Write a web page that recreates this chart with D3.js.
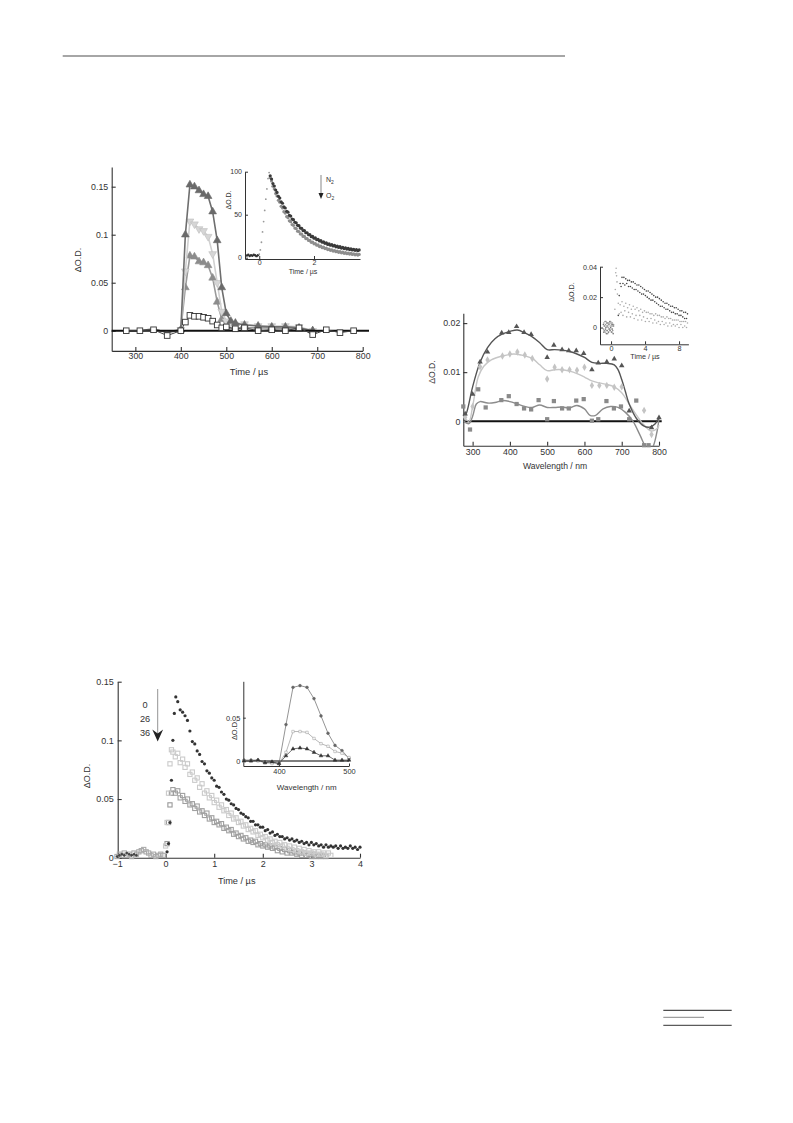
<!DOCTYPE html>
<html><head><meta charset="utf-8">
<script src="https://cdn.jsdelivr.net/npm/d3@7"></script>
<style>
body{margin:0;background:#fff;}
text{font-family:"Liberation Sans",Arial,sans-serif;fill:#333;}
</style></head><body>
<script>
// ---------- DATA ----------
// Top-left main: Time / µs vs ΔO.D.
const tlTime = [280,310,340,370,400,410,420,430,440,450,460,470,480,490,500,510,520,540,570,600,630,660,690,720,750,780];
const tlDark = [0,0,0.002,-0.002,0.001,0.100,0.152,0.150,0.146,0.142,0.140,0.124,0.094,0.045,0.018,0.010,0.008,0.006,0.005,0.004,0.004,0.003,0,0,0,0];
const tlLight = [0,0,0.001,-0.001,0.001,0.062,0.114,0.111,0.106,0.104,0.098,0.080,0.050,0.020,0.010,0.007,0.006,0.007,0.005,0.005,0.005,0.004,0,0,0,0];
const tlMid = [0,0,0.001,-0.001,0.001,0.045,0.078,0.077,0.072,0.071,0.068,0.055,0.030,0.012,0.006,0.004,0.003,0.003,0.003,0.003,0.002,0.002,0,0,0,0];
const tlSqTime = [280,310,340,370,400,410,420,430,440,450,460,470,480,490,500,520,540,570,600,630,660,690,720,750,780];
const tlSquare = [0,0,0.001,-0.005,0,0.009,0.016,0.015,0.015,0.014,0.013,0.010,0.006,0.003,0.004,0.002,0.003,0,0.001,0,0.003,-0.004,0.001,-0.002,0];

// Top-left inset (normalised ΔO.D. vs Time / µs)
const tiBaseStart = -0.45, tiStep = 0.05;
const tiBase = [2.5,3.5,2.0,3.0,2.2,3.4,2.8,1.8,3.0];
const tiRiseT = [0.0,0.04,0.08,0.12,0.16,0.2,0.24,0.28,0.32,0.36];
const tiRise = [4,9,18,30,42,55,68,80,92,99];
const tiDecayStart = 0.4;
const tiN2 = [95.3,91.5,86.2,83.4,78.6,75.9,71.4,69.3,65.0,63.3,59.2,57.8,54.0,52.9,49.3,48.4,45.0,44.2,41.2,40.6,37.7,37.2,34.5,34.2,31.6,31.5,29.0,29.0,26.7,26.8,24.5,24.8,22.6,23.0,20.9,21.3,19.4,19.8,18.0,18.5,16.7,17.3,15.5,16.2,14.5,15.2,13.6,14.3,12.7,13.5,11.9,12.8,11.2,12.0,10.6,11.4,10.0,10.8,9.5,10.3,9.0,9.8,8.6,9.4,8.2,9.0];
const tiO2 = [93.0,89.2,83.1,80.0,74.6,71.8,66.7,64.5,59.8,57.9,53.5,51.9,47.9,46.6,42.9,41.9,38.5,37.7,34.5,33.9,30.9,30.5,27.7,27.4,24.8,24.7,22.3,22.3,20.0,20.1,17.9,18.2,16.1,16.4,14.5,14.9,13.0,13.5,11.7,12.3,10.6,11.2,9.5,10.1,8.6,9.2,7.7,8.4,7.0,7.7,6.3,7.0,5.7,6.4,5.1,5.9,4.6,5.4,4.2,5.0,3.8,4.6,3.4,4.2,3.1,3.8];

// Top-right main: Wavelength / nm vs ΔO.D.
const trDarkPts = [[280,0.0015],[300,0.0055],[320,0.0121],[340,0.0141],[378,0.0180],[397,0.0181],[418,0.0193],[438,0.0181],[457,0.0177],[500,0.0130],[518,0.0155],[540,0.0146],[558,0.0144],[578,0.0144],[598,0.0138],[620,0.0105],[637,0.0119],[660,0.0121],[680,0.0127],[700,0.0113],[720,0.0021],[780,-0.0013],[800,0.0007]];
const trLightPts = [[280,0.0008],[300,0.0030],[320,0.0111],[340,0.0125],[380,0.0133],[400,0.0137],[420,0.0141],[440,0.0135],[460,0.0128],[500,0.0086],[520,0.0110],[540,0.0105],[560,0.0105],[580,0.0104],[600,0.0110],[620,0.0073],[640,0.0073],[660,0.0073],[680,0.0069],[700,0.0070],[760,0.0022],[780,-0.0027]];
const trMidPts = [[275,0.0030],[293,-0.0017],[315,0.0065],[335,0.0028],[377,0.0043],[397,0.0051],[418,0.0035],[438,0.0026],[457,0.0024],[477,0.0043],[500,0.0004],[518,0.0041],[540,0.0026],[558,0.0026],[578,0.0042],[598,0.0045],[620,0.0001],[637,0.0004],[659,0.0041],[679,0.0026],[698,0.0030],[720,0.0004],[739,0.0042],[760,-0.0049],[772,-0.0049]];
const trDarkFit = [[275,0.0],[285,0.002],[300,0.007],[320,0.012],[340,0.015],[360,0.0168],[380,0.0178],[400,0.0183],[420,0.0186],[440,0.018],[460,0.0172],[480,0.016],[500,0.0146],[520,0.0146],[540,0.0145],[560,0.0142],[580,0.0137],[600,0.013],[620,0.012],[640,0.0118],[660,0.0118],[680,0.0115],[690,0.0105],[700,0.0085],[710,0.006],[720,0.0035],[740,0.0005],[760,-0.001],[775,-0.0012],[790,-0.0005],[800,0.0007]];
const trLightFit = [[275,0.001],[290,0.0],[300,0.003],[315,0.009],[330,0.0112],[350,0.0125],[380,0.0133],[410,0.0137],[430,0.0135],[460,0.0128],[480,0.0115],[500,0.0103],[520,0.0105],[540,0.0105],[560,0.0102],[580,0.0097],[600,0.009],[620,0.0082],[640,0.0078],[660,0.0075],[680,0.007],[700,0.0058],[720,0.0035],[740,0.0012],[760,-0.0008],[780,-0.002],[795,-0.0015],[800,-0.0008]];
const trMidFit = [[275,0.0],[290,-0.0005],[300,0.001],[310,0.0035],[320,0.004],[340,0.0037],[360,0.0038],[380,0.0042],[400,0.004],[420,0.0035],[440,0.003],[460,0.0028],[480,0.0033],[500,0.0028],[520,0.0028],[540,0.0029],[560,0.0027],[580,0.0032],[600,0.0025],[615,0.0012],[630,0.0012],[650,0.0025],[670,0.003],[690,0.0028],[710,0.0018],[730,0.0],[750,-0.003],[765,-0.0052],[780,-0.0056],[795,-0.002],[800,0.0007]];

// Top-right inset: ΔO.D. vs Time / µs
const riPreStart = -0.9, riPreStep = 0.05;
const riPreA = [0.002,-0.003,0.001,-0.002,0.004,-0.001,0.000,-0.004,0.003,-0.002,0.001,0.003,-0.003,0.002,-0.001,0.004,-0.002,0.000,0.003,-0.003,0.001,-0.001,0.002,-0.004,0.001];
const riPreB = [-0.001,0.003,-0.002,0.001,-0.003,0.002,0.004,0.001,-0.002,0.003,-0.004,0.000,0.002,-0.001,0.003,-0.002,0.001,0.004,-0.001,0.002,-0.003,0.003,-0.002,0.001,0.002];
const riSpikeStart = 0.45;
const riSpike = [0.012,0.025,0.036,0.039,0.034,0.030,0.022];
const riStart = 0.85, riStep = 0.11;
const riDark = [0.008,0.021,0.029,0.027,0.033,0.029,0.033,0.028,0.032,0.029,0.031,0.027,0.031,0.027,0.030,0.026,0.030,0.025,0.029,0.025,0.028,0.024,0.028,0.023,0.027,0.022,0.026,0.022,0.025,0.021,0.024,0.020,0.024,0.019,0.023,0.018,0.022,0.018,0.021,0.017,0.020,0.016,0.020,0.015,0.019,0.014,0.018,0.014,0.017,0.013,0.016,0.012,0.016,0.012,0.015,0.011,0.014,0.010,0.014,0.010,0.013,0.009,0.013,0.009,0.012,0.008,0.011,0.008,0.011,0.007,0.010,0.006,0.010,0.006,0.009];
const riLight = [0.016,0.009,0.015,0.010,0.017,0.008,0.014,0.011,0.016,0.007,0.013,0.010,0.015,0.007,0.012,0.009,0.014,0.006,0.012,0.008,0.013,0.005,0.011,0.008,0.012,0.005,0.010,0.007,0.011,0.004,0.010,0.006,0.010,0.004,0.009,0.006,0.009,0.003,0.008,0.005,0.009,0.003,0.008,0.004,0.008,0.002,0.007,0.004,0.007,0.002,0.006,0.003,0.007,0.001,0.006,0.003,0.006,0.001,0.005,0.002,0.005,0.001,0.005,0.002,0.005,0.000,0.004,0.002,0.004,0.000,0.004,0.001,0.004,0.000,0.003];

// Bottom main: ΔO.D. vs Time / µs, quencher 0, 26, 36
const bmLabels = ["0","26","36"];
const bmPreStart = -1.0, bmStep = 0.05;
const bmPreGrey = [0.001,0.003,0.002,0.004,0.002,0.003,0.001,0.004,0.003,0.005,0.006,0.007,0.005,0.004,0.002,0.003,0.001,0.002,0.003,0.002];
const bmPreDark = [0.001,0.002,0.003,0.002,0.004,0.003,0.002,0.003,0.002];
const bmRiseDarkT = [0.03,0.06,0.09,0.12,0.15,0.18,0.21];
const bmRiseDark = [0.005,0.012,0.030,0.066,0.100,0.123,0.137];
const bmDarkStart = 0.25;
const bmDark = [0.133,0.126,0.124,0.121,0.117,0.108,0.099,0.097,0.091,0.088,0.082,0.080,0.074,0.072,0.068,0.066,0.061,0.060,0.056,0.054,0.050,0.049,0.046,0.045,0.042,0.041,0.038,0.037,0.035,0.034,0.031,0.031,0.028,0.028,0.026,0.026,0.023,0.024,0.021,0.022,0.019,0.020,0.018,0.018,0.016,0.017,0.015,0.016,0.014,0.015,0.013,0.014,0.012,0.013,0.011,0.013,0.011,0.012,0.010,0.011,0.009,0.011,0.009,0.010,0.009,0.010,0.008,0.010,0.008,0.009,0.008,0.010,0.008,0.009,0.007,0.009];
const bmRiseLightT = [0.0,0.03,0.06,0.09,0.12];
const bmRiseLight = [0.010,0.030,0.055,0.080,0.092];
const bmLightStart = 0.15;
const bmLight = [0.090,0.086,0.089,0.081,0.084,0.077,0.080,0.071,0.073,0.066,0.068,0.060,0.063,0.055,0.057,0.051,0.053,0.047,0.049,0.043,0.045,0.040,0.041,0.036,0.038,0.033,0.034,0.030,0.031,0.027,0.028,0.024,0.025,0.022,0.023,0.019,0.020,0.017,0.018,0.015,0.016,0.013,0.014,0.011,0.013,0.010,0.011,0.008,0.010,0.007,0.009,0.006,0.008,0.005,0.007,0.004,0.006,0.004,0.005,0.003,0.005,0.003,0.004,0.002,0.004,0.002];
const bmRiseMidT = [0.03,0.06,0.09,0.12];
const bmRiseMid = [0.012,0.030,0.045,0.055];
const bmMidStart = 0.15;
const bmMid = [0.058,0.055,0.057,0.051,0.053,0.048,0.050,0.045,0.046,0.042,0.044,0.039,0.040,0.036,0.038,0.033,0.034,0.030,0.031,0.028,0.029,0.025,0.026,0.023,0.024,0.020,0.021,0.018,0.019,0.016,0.017,0.014,0.015,0.013,0.014,0.011,0.012,0.010,0.011,0.009,0.010,0.008,0.009,0.006,0.008,0.005,0.007,0.004,0.006,0.004,0.005,0.003,0.004,0.002,0.004,0.002,0.003,0.001,0.003,0.001,0.002,0.001,0.002,0.001];

// Bottom inset: ΔO.D. vs Wavelength / nm
const biWave = [350,360,370,380,390,400,410,420,430,440,450,460,470,480,490,500];
const biDark = [0.001,0.001,0.001,-0.001,-0.001,-0.003,0.042,0.085,0.087,0.085,0.072,0.052,0.032,0.018,0.012,0.003];
const biMid = [0.0,0.0,0.0,-0.002,-0.003,-0.003,0.010,0.034,0.034,0.033,0.026,0.020,0.017,0.011,0.009,0.004];
const biLow = [0.0,0.0,0.001,-0.002,-0.001,-0.003,0.006,0.014,0.015,0.014,0.010,0.006,0.006,0.001,0.001,0.001];

// ---------- DRAW ----------
const W = 793, H = 1123;
const svg = d3.select("body").append("svg").attr("width", W).attr("height", H);
svg.append("rect").attr("width", W).attr("height", H).attr("fill", "#fff");
const FONT = '"Liberation Sans",Arial,sans-serif';

function series(start, step, vals){ return vals.map((v,i)=>[start+i*step, v]); }
function zip(xs, ys){ return xs.map((x,i)=>[x, ys[i]]); }

function axes(g, x, y, o){
  const ax = g.append("g").attr("transform", `translate(0,${o.xAxisY})`)
    .call(d3.axisBottom(x).tickValues(o.xTicks).tickFormat(o.xFmt||(d=>d)).tickSizeInner(-o.tick).tickSizeOuter(0).tickPadding(o.xPad));
  const ay = g.append("g").attr("transform", `translate(${o.yAxisX},0)`)
    .call(d3.axisLeft(y).tickValues(o.yTicks).tickFormat(o.yFmt||(d=>d)).tickSizeInner(-o.tick).tickSizeOuter(0).tickPadding(o.yPad));
  [ax, ay].forEach(a=>{
    a.selectAll("path.domain").attr("stroke", "#333").attr("stroke-width", o.aw||1.1);
    a.selectAll(".tick line").attr("stroke", "#333").attr("stroke-width", o.aw||1.1);
    a.selectAll("text").attr("font-family", FONT).attr("font-size", o.fs).style("fill", "#333");
  });
  return [ax, ay];
}
function dash(v){ return v < 0 ? "\u2212" + Math.abs(v) : String(v); }

// top rule
svg.append("line").attr("x1",62.7).attr("x2",565).attr("y1",56).attr("y2",56).attr("stroke","#888").attr("stroke-width",1.3);

// ===== Top-left main =====
{
  const g = svg.append("g");
  const x = d3.scaleLinear().domain([248, 800]).range([111.7, 362.7]);
  const y = d3.scaleLinear().domain([-0.021, 0.1705]).range([350.9, 167]);
  axes(g, x, y, {xAxisY:350.9, yAxisX:111.7, xTicks:[300,400,500,600,700,800], yTicks:[0,0.05,0.1,0.15], tick:4, xPad:2, yPad:3.5, fs:8.8});
  const line = d3.line().x(d=>x(d[0])).y(d=>y(d[1]));
  const sets = [[tlMid,"#9a9a9a","#8c8c8c",d3.symbolTriangle,0],[tlLight,"#d0d0d0","#d6d6d6",d3.symbolTriangle,180],[tlDark,"#6e6e6e","#6a6a6a",d3.symbolTriangle,0]];
  sets.forEach(([vals, lc, mc, sym, rot])=>{
    const pts = zip(tlTime, vals);
    g.append("path").attr("d", line(pts)).attr("fill","none").attr("stroke",lc).attr("stroke-width",1.6);
    g.selectAll(null).data(pts.filter(p=>p[0]>=400 && p[0]<=700)).enter().append("path")
      .attr("d", d3.symbol(sym, 26)()).attr("transform", p=>`translate(${x(p[0])},${y(p[1])}) rotate(${rot})`)
      .attr("fill", mc).attr("stroke", rot? "#bdbdbd" : mc).attr("stroke-width",0.6);
  });
  g.append("line").attr("x1",111.7).attr("x2",369).attr("y1",y(0)).attr("y2",y(0)).attr("stroke","#111").attr("stroke-width",2);
  const sq = zip(tlSqTime, tlSquare);
  g.append("path").attr("d", line(sq)).attr("fill","none").attr("stroke","#444").attr("stroke-width",1);
  g.selectAll(null).data(sq).enter().append("rect")
    .attr("x", p=>x(p[0])-2.8).attr("y", p=>y(p[1])-2.8).attr("width",5.6).attr("height",5.6)
    .attr("fill","#fff").attr("stroke","#333").attr("stroke-width",0.9);
  g.append("text").attr("x",249).attr("y",375).attr("text-anchor","middle").attr("font-size",9.4).text("Time / µs");
  g.append("text").attr("transform","translate(80.5,260) rotate(-90)").attr("text-anchor","middle").attr("font-size",9).text("ΔO.D.");

  // inset
  const xi = d3.scaleLinear().domain([-0.52, 3.68]).range([245, 360]);
  const yi = d3.scaleLinear().domain([-1.5, 100]).range([259, 171.7]);
  const gi = svg.append("g");
  axes(gi, xi, yi, {xAxisY:259, yAxisX:245, xTicks:[0,2], yTicks:[0,50,100], tick:3, xPad:1.5, yPad:3, fs:7, aw:1});
  const dot = (arr, col, r)=> gi.selectAll(null).data(arr).enter().append("circle")
      .attr("cx", p=>xi(p[0])).attr("cy", p=>yi(p[1])).attr("r", r).attr("fill", col);
  dot(series(tiBaseStart, tiStep, tiBase), "#333", 1.2);
  dot(zip(tiRiseT, tiRise), "#999", 0.9);
  dot(series(tiDecayStart, tiStep, tiO2), "#8e8e8e", 1.6);
  dot(series(tiDecayStart, tiStep, tiN2), "#3a3a3a", 1.6);
  gi.append("text").attr("x",303).attr("y",273.5).attr("text-anchor","middle").attr("font-size",7).text("Time / µs");
  gi.append("text").attr("transform","translate(230.5,200) rotate(-90)").attr("text-anchor","middle").attr("font-size",7).text("ΔO.D.");
  gi.append("line").attr("x1",321).attr("x2",321).attr("y1",175).attr("y2",194).attr("stroke","#555").attr("stroke-width",0.7);
  gi.append("path").attr("d","M318.5,193 L323.5,193 L321,199 Z").attr("fill","#222");
  const n2 = gi.append("text").attr("x",326).attr("y",182).attr("font-size",7).text("N");
  n2.append("tspan").attr("font-size",5).attr("dy",1.5).text("2");
  const o2 = gi.append("text").attr("x",326).attr("y",198).attr("font-size",7).text("O");
  o2.append("tspan").attr("font-size",5).attr("dy",1.5).text("2");
}

// ===== Top-right main =====
{
  const g = svg.append("g");
  const x = d3.scaleLinear().domain([275, 800]).range([463.3, 659]);
  const y = d3.scaleLinear().domain([-0.005, 0.022]).range([445.7, 313.3]);
  axes(g, x, y, {xAxisY:445.7, yAxisX:463.3, xTicks:[300,400,500,600,700,800], yTicks:[0,0.01,0.02], tick:4, xPad:3, yPad:3, fs:8.8});
  g.append("clipPath").attr("id","trclip").append("rect").attr("x",463.3).attr("y",313).attr("width",200).attr("height",133);
  g.append("line").attr("x1",463.3).attr("x2",661.7).attr("y1",y(0)).attr("y2",y(0)).attr("stroke","#111").attr("stroke-width",2);
  const curve = d3.line().curve(d3.curveCatmullRom.alpha(0.5)).x(d=>x(d[0])).y(d=>y(d[1]));
  const cg = g.append("g").attr("clip-path","url(#trclip)");
  [[trMidFit,"#8c8c8c"],[trLightFit,"#c6c6c6"],[trDarkFit,"#555"]].forEach(([pts,c])=>{
    cg.append("path").attr("d", curve(pts)).attr("fill","none").attr("stroke",c).attr("stroke-width",1.4);
  });
  const sym = (pts, s, col, size)=> g.selectAll(null).data(pts).enter().append("path")
    .attr("d", d3.symbol(s, size)()).attr("transform", p=>`translate(${x(p[0])},${y(p[1])})`).attr("fill", col);
  sym(trMidPts, d3.symbolSquare, "#8a8a8a", 18);
  sym(trLightPts, d3.symbolDiamond, "#c4c4c4", 16);
  sym(trDarkPts, d3.symbolTriangle, "#555", 13);
  g.append("text").attr("x",555).attr("y",468.5).attr("text-anchor","middle").attr("font-size",8.6).text("Wavelength / nm");
  g.append("text").attr("transform","translate(434.5,372) rotate(-90)").attr("text-anchor","middle").attr("font-size",8.6).text("ΔO.D.");

  // inset
  const xi = d3.scaleLinear().domain([-1.3, 9.1]).range([600, 688.4]);
  const yi = d3.scaleLinear().domain([-0.011, 0.04]).range([344.3, 266.7]);
  const gi = svg.append("g");
  gi.append("rect").attr("x",600).attr("y",262).attr("width",90).attr("height",82).attr("fill","#fff");
  axes(gi, xi, yi, {xAxisY:344.3, yAxisX:600, xTicks:[0,4,8], yTicks:[0,0.02,0.04], tick:3, xPad:2, yPad:3, fs:7.2, aw:1});
  const dot = (arr, col)=> gi.selectAll(null).data(arr).enter().append("circle")
      .attr("cx", p=>xi(p[0])).attr("cy", p=>yi(p[1])).attr("r", 0.8).attr("fill", col);
  dot(series(riPreStart, riPreStep, riPreA), "#777");
  dot(series(riPreStart, riPreStep, riPreB), "#999");
  dot(series(riSpikeStart, 0.05, riSpike), "#aaa");
  dot(series(riStart, riStep, riLight), "#aaa");
  dot(series(riStart, riStep, riDark), "#444");
  gi.append("text").attr("x",645).attr("y",359).attr("text-anchor","middle").attr("font-size",7.2).text("Time / µs");
  gi.append("text").attr("transform","translate(574,292) rotate(-90)").attr("text-anchor","middle").attr("font-size",7.2).text("ΔO.D.");
}

// ===== Bottom main =====
{
  const g = svg.append("g");
  const x = d3.scaleLinear().domain([-1, 4]).range([117, 360]);
  const y = d3.scaleLinear().domain([0, 0.15]).range([857.7, 681.7]);
  axes(g, x, y, {xAxisY:857.7, yAxisX:117.7, xTicks:[-1,0,1,2,3,4], yTicks:[0,0.05,0.1,0.15], tick:4, xPad:3, yPad:4, fs:9, xFmt:dash});
  const sq = (arr, col)=> g.selectAll(null).data(arr).enter().append("rect")
    .attr("x", p=>x(p[0])-2.1).attr("y", p=>y(p[1])-2.1).attr("width",4.2).attr("height",4.2)
    .attr("fill","none").attr("stroke", col).attr("stroke-width",1.1);
  sq(series(bmPreStart, bmStep, bmPreGrey), "#aaa");
  g.selectAll(null).data(series(bmPreStart, bmStep, bmPreDark)).enter().append("circle")
    .attr("cx", p=>x(p[0])).attr("cy", p=>y(p[1])).attr("r",1.3).attr("fill","#444");
  sq(zip(bmRiseMidT, bmRiseMid), "#999");
  sq(series(bmMidStart, bmStep, bmMid), "#a0a0a0");
  sq(zip(bmRiseLightT, bmRiseLight), "#cacaca");
  sq(series(bmLightStart, bmStep, bmLight), "#cacaca");
  g.selectAll(null).data(zip(bmRiseDarkT, bmRiseDark).concat(series(bmDarkStart, bmStep, bmDark))).enter().append("circle")
    .attr("cx", p=>x(p[0])).attr("cy", p=>y(p[1])).attr("r",1.6).attr("fill","#333");
  g.append("text").attr("x",236.7).attr("y",883.5).attr("text-anchor","middle").attr("font-size",9.2).text("Time / µs");
  g.append("text").attr("transform","translate(89.5,776) rotate(-90)").attr("text-anchor","middle").attr("font-size",9).text("ΔO.D.");
  // arrow + labels
  g.append("line").attr("x1",157.7).attr("x2",157.7).attr("y1",689).attr("y2",735).attr("stroke","#777").attr("stroke-width",0.8);
  g.append("path").attr("d","M152.3,729.5 L157.7,741.5 L163.1,729.5 L157.7,733.5 Z").attr("fill","#222");
  bmLabels.forEach((t,i)=> g.append("text").attr("x",145).attr("y",707.5 + i*14.4).attr("text-anchor","middle").attr("font-size",9.2).text(t));

  // inset
  const xi = d3.scaleLinear().domain([349, 500]).range([243.3, 349]);
  const yi = d3.scaleLinear().domain([-0.0058, 0.092]).range([766, 681.3]);
  const gi = svg.append("g");
  axes(gi, xi, yi, {xAxisY:766, yAxisX:243.3, xTicks:[400,500], yTicks:[0,0.05], tick:2.5, xPad:3, yPad:3, fs:7.4, aw:1});
  gi.append("line").attr("x1",243.3).attr("x2",349).attr("y1",yi(0)).attr("y2",yi(0)).attr("stroke","#555").attr("stroke-width",1.6);
  const ln = d3.line().x(d=>xi(d[0])).y(d=>yi(d[1]));
  [[biDark,"#666",d3.symbolCircle],[biMid,"#999",d3.symbolSquare],[biLow,"#333",d3.symbolTriangle]].forEach(([vals,c,s])=>{
    const pts = zip(biWave, vals);
    gi.append("path").attr("d", ln(pts)).attr("fill","none").attr("stroke",c).attr("stroke-width",0.7);
    gi.selectAll(null).data(pts).enter().append("path").attr("d", d3.symbol(s, 6)())
      .attr("transform", p=>`translate(${xi(p[0])},${yi(p[1])})`).attr("fill", s===d3.symbolSquare?"#fff":c).attr("stroke", c).attr("stroke-width",0.5);
  });
  gi.append("text").attr("x",306.7).attr("y",789.5).attr("text-anchor","middle").attr("font-size",8).text("Wavelength / nm");
  gi.append("text").attr("transform","translate(236.5,730) rotate(-90)").attr("text-anchor","middle").attr("font-size",7.4).text("ΔO.D.");
}

// bottom-right rules
svg.append("line").attr("x1",663.3).attr("x2",731.7).attr("y1",1010.3).attr("y2",1010.3).attr("stroke","#222").attr("stroke-width",1);
svg.append("line").attr("x1",663.3).attr("x2",704).attr("y1",1017.3).attr("y2",1017.3).attr("stroke","#888").attr("stroke-width",1);
svg.append("line").attr("x1",663.3).attr("x2",731.7).attr("y1",1025.3).attr("y2",1025.3).attr("stroke","#333").attr("stroke-width",1);
</script>
</body></html>
